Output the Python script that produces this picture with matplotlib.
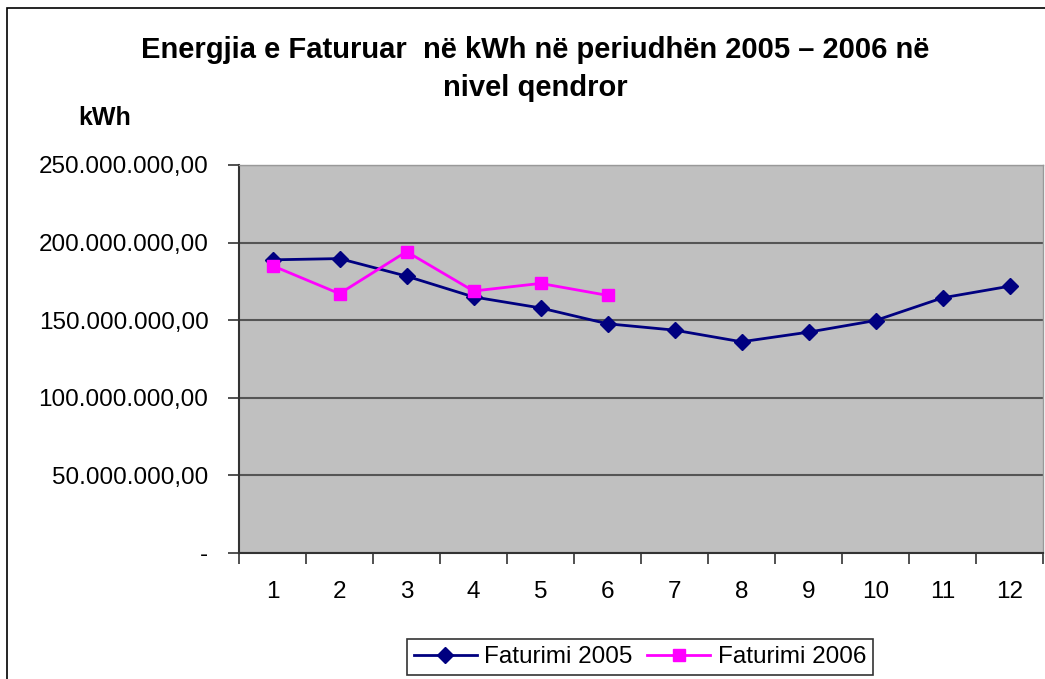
import matplotlib.pyplot as plt
from matplotlib.patches import Rectangle
from matplotlib.ticker import FixedLocator, FuncFormatter

plt.rcParams['font.family'] = ['Liberation Sans', 'DejaVu Sans']

# --- data ---
months = [1, 2, 3, 4, 5, 6, 7, 8, 9, 10, 11, 12]
fat_2005 = [188.9e6, 189.7e6, 178.4e6, 165.0e6, 157.9e6, 147.7e6,
            143.6e6, 136.1e6, 142.3e6, 149.8e6, 164.4e6, 171.9e6]
months_2006 = [1, 2, 3, 4, 5, 6]
fat_2006 = [185.1e6, 167.1e6, 194.2e6, 168.8e6, 173.7e6, 166.0e6]
y_ticks = [0, 50e6, 100e6, 150e6, 200e6, 250e6]

title = "Energjia e Faturuar  në kWh në periudhën 2005 – 2006 në\nnivel qendror"


def fmt_kwh(v, pos):
    if v == 0:
        return "-"
    s = f"{v:,.2f}"
    return s.replace(",", "X").replace(".", ",").replace("X", ".")


W, H = 1045, 679
fig = plt.figure(figsize=(W / 100, H / 100), dpi=100)
ax = fig.add_axes([239 / W, 1 - 553 / H, (1043 - 239) / W, (553 - 165) / H])

# outer chart border (cut off at right/bottom like the original)
fig.patches.append(Rectangle((7 / W, -0.1), 1.2, 1 - 8 / H + 0.1, transform=fig.transFigure,
                             fill=False, edgecolor='black', linewidth=1.2))

ax.set_facecolor('#C0C0C0')
ax.plot(months, fat_2005, color='#000080', lw=2, marker='D', ms=8,
        mfc='#000080', mec='#000080', label='Faturimi 2005', zorder=3)
ax.plot(months_2006, fat_2006, color='#FF00FF', lw=2, marker='s', ms=9,
        mfc='#FF00FF', mec='#FF00FF', label='Faturimi 2006', zorder=4)

ax.set_xlim(0.5, 12.5)
ax.set_ylim(0, 250e6)
ax.yaxis.set_major_locator(FixedLocator(y_ticks))
ax.yaxis.set_major_formatter(FuncFormatter(fmt_kwh))
ax.grid(axis='y', color='#555555', lw=1.5)
ax.set_axisbelow(True)

ax.set_xticks(months)
ax.set_xticks([m + 0.5 for m in [0] + months], minor=True)
ax.tick_params(axis='x', which='major', length=0, pad=20, labelsize=17.5)
ax.tick_params(axis='x', which='minor', length=8, width=1.2, color='#333333')
ax.tick_params(axis='y', length=8, width=1.2, color='#333333', pad=14, labelsize=17.5)

for side in ['left', 'bottom']:
    ax.spines[side].set_color('#333333')
    ax.spines[side].set_linewidth(1.5)
for side in ['top', 'right']:
    ax.spines[side].set_color('#999999')
    ax.spines[side].set_linewidth(1)

fig.text(535 / W, 1 - 69 / H, title, ha='center', va='center', fontsize=21,
         fontweight='bold', linespacing=1.5)
fig.text(105 / W, 1 - 118 / H, "kWh", ha='center', va='center', fontsize=18,
         fontweight='bold')

leg = ax.legend(loc='center', bbox_to_anchor=(640 / W, 1 - 657 / H),
                bbox_transform=fig.transFigure, ncol=2, frameon=True, fancybox=False,
                fontsize=17.5, handlelength=2.6, columnspacing=0.6, handletextpad=0.3,
                borderpad=0.3, edgecolor='black')
leg.get_frame().set_linewidth(1.2)

fig.savefig('out.png', dpi=100, facecolor='white')
